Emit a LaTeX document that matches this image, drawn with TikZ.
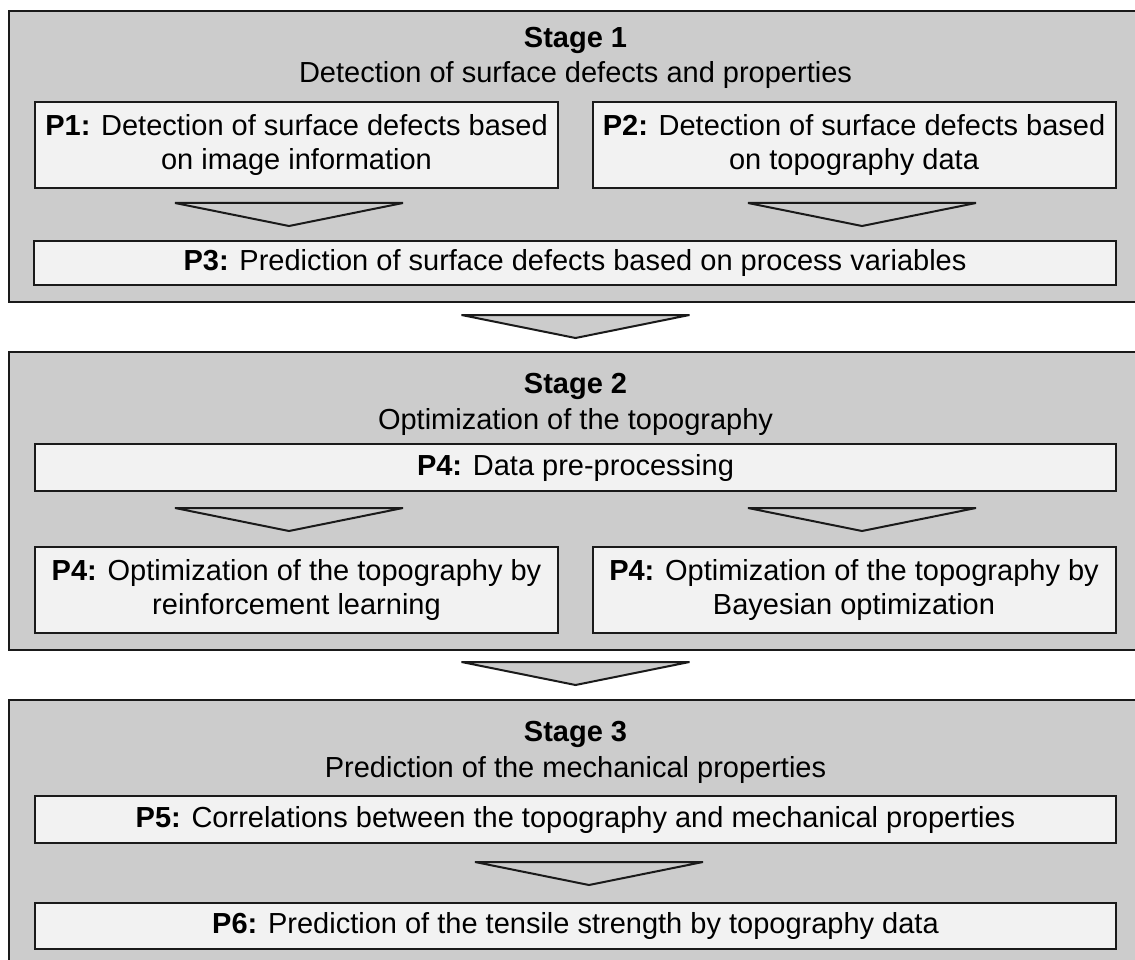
\documentclass[tikz,border=0pt]{standalone}
\usepackage{fontspec}
\setmainfont{Liberation Sans}
\newcommand\boxfont{\fontsize{29}{34}\selectfont}
\definecolor{linec}{HTML}{1A1A1A}
\definecolor{stagegray}{HTML}{CCCCCC}
\definecolor{taskgray}{HTML}{F2F2F2}
\begin{document}
\begin{tikzpicture}[x=1pt,y=-1pt,
  stagebox/.style={draw=linec, fill=stagegray, line width=2pt, anchor=north west, inner sep=0pt},
  taskbox/.style={draw=linec, fill=taskgray, line width=2pt, inner sep=0pt, align=center, font=\boxfont},
  halfbox/.style={taskbox, minimum width=523pt, minimum height=86pt},
  fullbox/.style={taskbox, minimum width=1081pt, minimum height=46pt},
  stagetitle/.style={anchor=base, font=\boxfont\bfseries, inner sep=0pt},
  stagesub/.style={anchor=base, font=\boxfont, inner sep=0pt},
  chev/.pic={\draw[draw=linec, fill=stagegray, line width=2pt] (-114,0) -- (114,0) -- (0,23) -- cycle;}
]
\useasboundingbox (0,0) rectangle (1135,960);
\clip (0,0) rectangle (1135,960);

% Stage frames (they run past the right and bottom edges of the page)
\node[stagebox, minimum width=1140pt, minimum height=291pt] (s1) at (8,10) {};
\node[stagebox, minimum width=1140pt, minimum height=298pt] (s2) at (8,351) {};
\node[stagebox, minimum width=1140pt, minimum height=280pt] (s3) at (8,699) {};

% Stage 1
\node[stagetitle] (t1) at (575.5,48) {Stage 1};
\node[stagesub] (u1) at (575.5,83) {Detection of surface defects and properties};
\node[halfbox] (p1) at (296.5,145.5) {\textbf{P1:} Detection of surface defects based\\on image information};
\node[halfbox] (p2) at (854,145.5) {\textbf{P2:} Detection of surface defects based\\on topography data};
\node[fullbox, minimum width=1082pt, minimum height=44pt] (p3) at (575,263) {\textbf{P3:} Prediction of surface defects based on process variables};
\pic (a1) at (289,203) {chev};
\pic (a2) at (862,203) {chev};

% Stage 1 -> Stage 2
\pic (a3) at (575.5,315) {chev};

% Stage 2
\node[stagetitle] (t2) at (575.5,393) {Stage 2};
\node[stagesub] (u2) at (575.5,429) {Optimization of the topography};
\node[fullbox, minimum height=47pt] (p4) at (575.5,467.5) {\textbf{P4:} Data pre-processing};
\node[halfbox] (p4a) at (296.5,590) {\textbf{P4:} Optimization of the topography by\\reinforcement learning};
\node[halfbox] (p4b) at (854,590) {\textbf{P4:} Optimization of the topography by\\Bayesian optimization};
\pic (a4) at (289,508) {chev};
\pic (a5) at (862,508) {chev};

% Stage 2 -> Stage 3
\pic (a6) at (575.5,662) {chev};

% Stage 3
\node[stagetitle] (t3) at (575.5,741) {Stage 3};
\node[stagesub] (u3) at (575.5,777) {Prediction of the mechanical properties};
\node[fullbox, minimum height=47pt] (p5) at (575.5,819.5) {\textbf{P5:} Correlations between the topography and mechanical properties};
\node[fullbox] (p6) at (575.5,926) {\textbf{P6:} Prediction of the tensile strength by topography data};
\pic (a7) at (589,862) {chev};
\end{tikzpicture}
\end{document}
